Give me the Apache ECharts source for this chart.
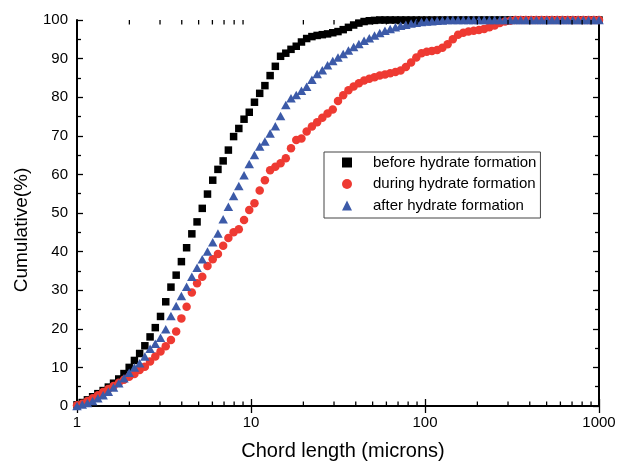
<!DOCTYPE html>
<html>
<head>
<meta charset="utf-8">
<script src="https://cdn.jsdelivr.net/npm/echarts@6/dist/echarts.min.js"></script>
<style>
html,body{margin:0;padding:0;background:#fff;}
#chart{width:618px;height:462px;}
</style>
</head>
<body>
<div id="chart"></div>
<script>
// Chord length channels (microns)
var chordLength = [1, 1.072, 1.148, 1.230, 1.318, 1.413, 1.514, 1.622, 1.738, 1.862,
  1.995, 2.138, 2.291, 2.455, 2.630, 2.818, 3.020, 3.236, 3.467, 3.715,
  3.981, 4.266, 4.571, 4.898, 5.248, 5.623, 6.026, 6.457, 6.918, 7.413,
  7.943, 8.511, 9.120, 9.772, 10.47, 11.22, 12.02, 12.88, 13.80, 14.79,
  15.85, 16.98, 18.20, 19.50, 20.89, 22.39, 23.99, 25.70, 27.54, 29.51,
  31.62, 33.88, 36.31, 38.90, 41.69, 44.67, 47.86, 51.29, 54.95, 58.88,
  63.10, 67.61, 72.44, 77.62, 83.18, 89.13, 95.50, 102.3, 109.6, 117.5,
  125.9, 134.9, 144.5, 154.9, 166.0, 177.8, 190.5, 204.2, 218.8, 234.4,
  251.2, 269.2, 288.4, 309.0, 331.1, 354.8, 380.2, 407.4, 436.5, 467.7,
  501.2, 537.0, 575.4, 616.6, 660.7, 707.9, 758.6, 812.8, 871.0, 933.3, 1000];

var beforeFormation = [0.3, 0.9, 1.6, 2.4, 3.2, 4.0, 4.9, 5.9, 7.0, 8.4,
  10.0, 11.8, 13.6, 15.6, 17.9, 20.3, 23.2, 27.0, 30.8, 33.9,
  37.4, 41.0, 44.6, 47.7, 51.2, 54.9, 58.5, 61.3, 63.5, 66.3,
  69.8, 71.9, 74.3, 76.1, 78.7, 81.0, 83.0, 85.6, 88.0, 90.6,
  91.4, 92.4, 93.2, 94.3, 95.2, 95.7, 96.0, 96.2, 96.4, 96.7,
  97.0, 97.5, 98.1, 98.7, 99.2, 99.6, 99.8, 99.9, 100, 100,
  100, 100, 100, 100, 100, 100, 100, 100, 100, 100,
  100, 100, 100, 100, 100, 100, 100, 100, 100, 100,
  100, 100, 100, 100, 100, 100, 100, 100, 100, 100,
  100, 100, 100, 100, 100, 100, 100, 100, 100, 100, 100];

var duringFormation = [0.2, 0.6, 1.3, 2.0, 2.8, 3.6, 4.4, 5.2, 6.0, 6.8,
  7.6, 8.3, 9.3, 10.2, 11.5, 12.8, 14.1, 15.5, 17.1, 19.3,
  22.7, 25.7, 29.4, 31.8, 33.5, 36.3, 38.0, 39.4, 41.5, 43.5,
  45.0, 45.8, 48.2, 50.8, 52.5, 55.8, 58.5, 61.1, 62.0, 62.9,
  64.2, 66.8, 68.9, 69.3, 71.1, 72.4, 73.5, 74.7, 75.8, 76.8,
  79.0, 80.5, 81.8, 82.8, 83.6, 84.3, 84.8, 85.2, 85.6, 85.9,
  86.2, 86.5, 86.9, 87.8, 89.0, 90.3, 91.4, 91.8, 92.0, 92.2,
  92.8, 93.7, 95.0, 96.2, 96.7, 97.0, 97.2, 97.4, 97.7, 98.1,
  98.6, 99.2, 99.6, 99.8, 100, 100, 100, 100, 100, 100,
  100, 100, 100, 100, 100, 100, 100, 100, 100, 100, 100];

var afterFormation = [0, 0.4, 0.8, 1.3, 2.0, 2.8, 3.7, 4.8, 5.9, 7.2,
  8.6, 10.0, 11.1, 12.8, 14.8, 16.1, 17.7, 19.9, 23.3, 25.9,
  28.5, 30.9, 33.5, 35.8, 38.0, 40.0, 42.4, 44.7, 48.4, 51.6,
  54.4, 57.0, 59.8, 62.7, 65.0, 67.2, 68.5, 70.6, 72.5, 75.1,
  78.0, 79.7, 80.6, 81.7, 82.7, 84.5, 86.0, 87.0, 88.3, 89.4,
  90.3, 91.2, 92.1, 93.0, 93.8, 94.6, 95.3, 96.0, 96.6, 97.2,
  97.7, 98.1, 98.5, 98.8, 99.1, 99.3, 99.5, 99.6, 99.7, 99.8,
  99.9, 100, 100, 100, 100, 100, 100, 100, 100, 100,
  100, 100, 100, 100, 100, 100, 100, 100, 100, 100,
  100, 100, 100, 100, 100, 100, 100, 100, 100, 100, 100];

var seriesNames = ['before hydrate formation', 'during hydrate formation', 'after hydrate formation'];
var xMinorTicks = [2, 3, 4, 5, 6, 7, 8, 9, 20, 30, 40, 50, 60, 70, 80, 90, 200, 300, 400, 500, 600, 700, 800, 900];

function pairs(xs, ys) { return xs.map(function (x, i) { return [x, ys[i]]; }); }

var FONT = '"Liberation Sans", Arial, sans-serif';
var chart = echarts.init(document.getElementById('chart'), null, { renderer: 'canvas' });

var axisLineStyle = { show: true, lineStyle: { color: '#000', width: 2 } };
var tickStyle = { color: '#000', width: 1.3 };

chart.setOption({
  animation: false,
  backgroundColor: '#fff',
  textStyle: { fontFamily: FONT },
  grid: { left: 77, right: 19, top: 20, bottom: 56, containLabel: false, outerBoundsMode: 'none' },
  legend: {
    data: seriesNames,
    orient: 'vertical',
    left: 324,
    top: 152,
    padding: [3, 4, 5, 18],
    itemGap: 6.5,
    itemWidth: 10,
    itemHeight: 10,
    borderColor: '#444',
    borderWidth: 1,
    textStyle: { fontFamily: FONT, fontSize: 15, color: '#000', padding: [0, 0, 0, 16] }
  },
  xAxis: [{
    type: 'log', logBase: 10, min: 1, max: 1000,
    name: 'Chord length (microns)', nameLocation: 'middle', nameGap: 35,
    nameTextStyle: { fontFamily: FONT, fontSize: 20, color: '#000', padding: [0, 0, 0, 10] },
    axisLine: axisLineStyle,
    axisTick: { show: true, inside: true, length: 7, lineStyle: tickStyle },
    axisLabel: { fontFamily: FONT, fontSize: 15, color: '#000', margin: 9,
      formatter: function (v) { return String(Math.round(v)); } },
    splitLine: { show: false }
  }, {
    type: 'log', logBase: 10, min: 1, max: 1000, position: 'top',
    axisLine: axisLineStyle,
    axisTick: { show: true, inside: true, length: 7, lineStyle: tickStyle },
    axisLabel: { show: false },
    splitLine: { show: false }
  }],
  yAxis: [{
    type: 'value', min: 0, max: 100, interval: 10,
    name: 'Cumulative(%)', nameLocation: 'middle', nameGap: 46, nameRotate: 90,
    nameTextStyle: { fontFamily: FONT, fontSize: 19, color: '#000', padding: [0, 34, 0, 0] },
    axisLine: axisLineStyle,
    axisTick: { show: true, inside: true, length: 6, lineStyle: tickStyle },
    minorTick: { show: true, splitNumber: 2, length: 4, lineStyle: tickStyle },
    axisLabel: { fontFamily: FONT, fontSize: 15, color: '#000', margin: 9 },
    splitLine: { show: false }
  }, {
    type: 'value', min: 0, max: 100, interval: 10, position: 'right',
    axisLine: axisLineStyle,
    axisTick: { show: true, inside: true, length: 6, lineStyle: tickStyle },
    minorTick: { show: true, splitNumber: 2, length: 4, lineStyle: tickStyle },
    axisLabel: { show: false },
    splitLine: { show: false }
  }],
  series: [{
    name: seriesNames[0], type: 'scatter', symbol: 'rect', symbolSize: 7.5,
    itemStyle: { color: '#000', opacity: 1 },
    data: pairs(chordLength, beforeFormation), z: 2
  }, {
    name: seriesNames[1], type: 'scatter', symbol: 'circle', symbolSize: 8.5,
    itemStyle: { color: '#ee3a32', opacity: 1 },
    data: pairs(chordLength, duringFormation), z: 3
  }, {
    name: seriesNames[2], type: 'scatter', symbol: 'triangle', symbolSize: [9.5, 8.5],
    itemStyle: { color: '#3c5aa8', opacity: 1 },
    data: pairs(chordLength, afterFormation), z: 4
  }]
});

// Minor ticks of the log x axis (bottom and top), placed through the axis scale
var minorGraphics = [];
xMinorTicks.forEach(function (v) {
  var b = chart.convertToPixel({ xAxisIndex: 0, yAxisIndex: 0 }, [v, 0]);
  var t = chart.convertToPixel({ xAxisIndex: 0, yAxisIndex: 0 }, [v, 100]);
  minorGraphics.push({ type: 'line', silent: true, z: 10,
    shape: { x1: b[0], y1: b[1], x2: b[0], y2: b[1] - 4.5 }, style: { stroke: '#000', lineWidth: 1.3 } });
  minorGraphics.push({ type: 'line', silent: true, z: 10,
    shape: { x1: t[0], y1: t[1], x2: t[0], y2: t[1] + 4.5 }, style: { stroke: '#000', lineWidth: 1.3 } });
});
chart.setOption({ graphic: minorGraphics });
</script>
</body>
</html>
